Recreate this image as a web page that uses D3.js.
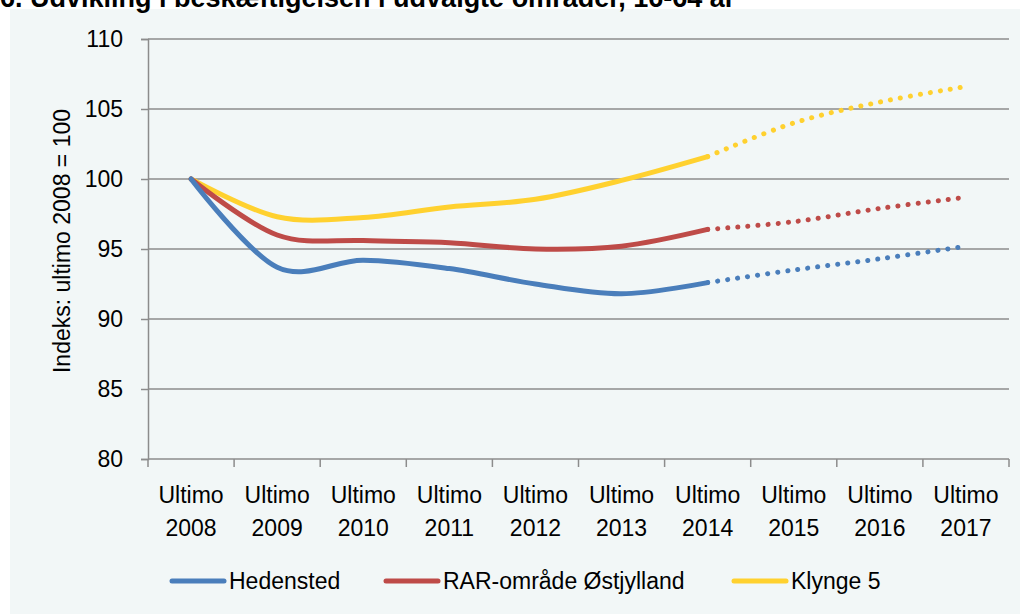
<!DOCTYPE html>
<html>
<head>
<meta charset="utf-8">
<script src="https://cdn.jsdelivr.net/npm/d3@7"></script>
<style>
  body { margin: 0; background: #fff; }
  svg text { font-family: "Liberation Sans", Arial, sans-serif; fill: #000; }
</style>
</head>
<body>
<div id="chart"></div>
<script>
// data
var categories = ["Ultimo 2008", "Ultimo 2009", "Ultimo 2010", "Ultimo 2011", "Ultimo 2012",
                  "Ultimo 2013", "Ultimo 2014", "Ultimo 2015", "Ultimo 2016", "Ultimo 2017"];
var actualCats = categories.slice(0, 7);
var projCats = categories.slice(6);

var hedensted     = [100, 93.7, 94.2, 93.6, 92.5, 91.8, 92.6];
var hedenstedProj = [92.6, 93.5, 94.3, 95.2];
var rar           = [100, 96.0, 95.6, 95.45, 95.0, 95.2, 96.4];
var rarProj       = [96.4, 96.95, 97.9, 98.7];
var klynge        = [100, 97.3, 97.25, 98.0, 98.55, 99.9, 101.6];
var klyngeProj    = [101.6, 104.0, 105.5, 106.6];

var seriesNames = ["Hedensted", "RAR-område Østjylland", "Klynge 5"];
var colors = ["#4a7ebb", "#be4b48", "#ffd12f"];
var yTicks = [80, 85, 90, 95, 100, 105, 110];

var svgWidth = 1026, svgHeight = 614;
var margin = { top: 39, right: 17, bottom: 155, left: 148 };
var width = svgWidth - margin.left - margin.right;
var height = svgHeight - margin.top - margin.bottom;

var svg = d3.select("#chart").append("svg")
    .attr("width", svgWidth)
    .attr("height", svgHeight);

// panel background
svg.append("rect")
    .attr("x", 10).attr("y", 9)
    .attr("width", 1010).attr("height", 605)
    .attr("fill", "#f2f7f7");

// title, cut at the top of the page like the original
svg.append("text")
    .attr("x", 0).attr("y", 7)
    .style("font-weight", "bold")
    .style("font-size", "27px")
    .text("6. Udvikling i beskæftigelsen i udvalgte områder, 16-64 år");

var chartGroup = svg.append("g")
    .attr("transform", `translate(${margin.left}, ${margin.top})`);

var xBand = d3.scaleBand().domain(categories).range([0, width]).padding(0);
var xPos = c => xBand(c) + xBand.bandwidth() / 2;
var yScale = d3.scaleLinear().domain([80, 110]).range([height, 0]);

// gridlines
chartGroup.selectAll(".grid")
    .data(yTicks)
    .enter()
    .append("line")
    .attr("x1", 0).attr("x2", width)
    .attr("y1", d => yScale(d)).attr("y2", d => yScale(d))
    .attr("stroke", "#8c8c8c")
    .attr("stroke-width", 1.5);

// y axis
var leftAxis = d3.axisLeft(yScale).tickValues(yTicks).tickSize(7).tickPadding(18);
var yAxisG = chartGroup.append("g").call(leftAxis);
yAxisG.select(".domain").attr("stroke", "#8c8c8c").attr("stroke-width", 1.5);
yAxisG.selectAll(".tick line").attr("stroke", "#8c8c8c").attr("stroke-width", 1.5);
yAxisG.selectAll("text").style("font-size", "23px").attr("fill", "#000");

// x axis ticks between categories
var edges = categories.map(c => xBand(c)).concat([width]);
chartGroup.selectAll(".xtick")
    .data(edges)
    .enter()
    .append("line")
    .attr("x1", d => d).attr("x2", d => d)
    .attr("y1", height).attr("y2", height + 8)
    .attr("stroke", "#8c8c8c")
    .attr("stroke-width", 1.5);

// x labels on two lines
var xLabels = chartGroup.selectAll(".xlabel")
    .data(categories)
    .enter()
    .append("text")
    .attr("text-anchor", "middle")
    .attr("transform", d => `translate(${xPos(d)}, ${height + 44})`)
    .style("font-size", "23px");
xLabels.append("tspan").attr("x", 0).attr("y", 0).text(d => d.split(" ")[0]);
xLabels.append("tspan").attr("x", 0).attr("y", 33).text(d => d.split(" ")[1]);

// y axis title
chartGroup.append("text")
    .attr("transform", "rotate(-90)")
    .attr("x", -(yScale(100) + 62))
    .attr("y", -78)
    .attr("text-anchor", "middle")
    .style("font-size", "23px")
    .text("Indeks: ultimo 2008 = 100");

var line = d3.line()
    .x(d => xPos(d[0]))
    .y(d => yScale(d[1]))
    .curve(d3.curveCardinal.tension(0));

var actual = [hedensted, rar, klynge];
var proj = [hedenstedProj, rarProj, klyngeProj];

// projections dotted
[0, 1, 2].forEach(function (i) {
    chartGroup.append("path")
        .datum(proj[i].map((v, j) => [projCats[j], v]))
        .attr("d", line)
        .attr("fill", "none")
        .attr("stroke", colors[i])
        .attr("stroke-width", 5)
        .attr("stroke-linecap", "round")
        .attr("stroke-dasharray", "0.1 10");
});
// drawn in reverse so blue ends on top like the original
[2, 1, 0].forEach(function (i) {
    chartGroup.append("path")
        .datum(actual[i].map((v, j) => [actualCats[j], v]))
        .attr("d", line)
        .attr("fill", "none")
        .attr("stroke", colors[i])
        .attr("stroke-width", 5)
        .attr("stroke-linecap", "round")
        .attr("stroke-linejoin", "round");
});

// legend
var legendX = [172, 386, 734];
var legend = svg.selectAll(".legend")
    .data(seriesNames)
    .enter()
    .append("g")
    .attr("transform", (d, i) => `translate(${legendX[i]}, 581)`);
legend.append("line")
    .attr("x1", 0).attr("x2", 52)
    .attr("stroke", (d, i) => colors[i])
    .attr("stroke-width", 5)
    .attr("stroke-linecap", "round");
legend.append("text")
    .attr("x", 57)
    .attr("dy", "0.35em")
    .style("font-size", "23px")
    .text(d => d);
</script>
</body>
</html>
